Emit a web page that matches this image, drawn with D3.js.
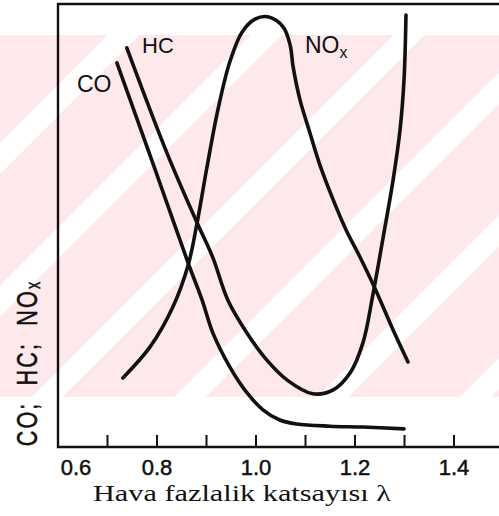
<!DOCTYPE html>
<html>
<head>
<meta charset="utf-8">
<script src="https://cdn.jsdelivr.net/npm/d3@7"></script>
<style>
  body { margin: 0; background: #fff; }
  svg { display: block; }
  .curve { fill: none; stroke: #111; stroke-width: 3.6; stroke-linecap: round; }
  .frame { fill: none; stroke: #111; stroke-width: 2.4; }
  .tick-mark { stroke: #111; stroke-width: 2; }
  .lbl { font-family: "Liberation Sans", Arial, sans-serif; fill: #111; }
</style>
</head>
<body>
<div id="chart"></div>
<script>
// excess air ratio (lambda) and relative emission level for each curve
const coLambda  = [0.719, 0.795, 0.863, 0.891, 0.913, 0.947, 0.982, 1.014, 1.048, 1.082, 1.149, 1.216, 1.299];
const coValue   = [86.7, 63.0, 41.5, 33.2, 25.7, 18.1, 12.2, 8.4, 6.1, 5.2, 4.7, 4.5, 4.1];

const hcLambda  = [0.739, 0.820, 0.881, 0.913, 0.943, 0.982, 1.022, 1.063, 1.115, 1.156, 1.190, 1.216, 1.236, 1.257, 1.277, 1.291, 1.299, 1.303];
const hcValue   = [90.1, 66.4, 50.6, 42.7, 33.2, 25.7, 19.6, 15.1, 12.0, 12.9, 16.7, 23.5, 34.3, 47.4, 60.3, 71.6, 82.8, 97.5];

const noxLambda = [0.731, 0.786, 0.832, 0.863, 0.881, 0.901, 0.923, 0.947, 0.972, 0.998, 1.024, 1.055, 1.069, 1.075, 1.089, 1.109, 1.129, 1.156, 1.182, 1.210, 1.242, 1.277, 1.307];
const noxValue  = [15.6, 22.6, 31.6, 41.1, 50.6, 63.2, 76.1, 86.9, 93.7, 96.6, 97.1, 94.8, 90.7, 85.8, 78.3, 70.9, 63.7, 55.8, 49.0, 42.9, 35.4, 26.4, 19.2];

const tickMarks  = [0.7, 0.8, 0.9, 1.0, 1.1, 1.2, 1.3, 1.4];
const tickLabels = ["0.6", "0.8", "1.0", "1.2", "1.4"];

const svg = d3.select("#chart").append("svg")
    .attr("width", 499)
    .attr("height", 516);

const x = d3.scaleLinear().domain([0.6, 1.4]).range([58, 454]);
const y = d3.scaleLinear().domain([0, 100]).range([447, 4]);
const right = 499;

// faint pink watermark band behind the plot
const defs = svg.append("defs");
const pat = defs.append("pattern")
    .attr("id", "wm")
    .attr("patternUnits", "userSpaceOnUse")
    .attr("width", 101).attr("height", 101)
    .attr("patternTransform", "rotate(45)");
pat.append("rect").attr("width", 101).attr("height", 101).attr("fill", "#fde8ec");
pat.append("rect").attr("x", 0).attr("width", 22).attr("height", 101).attr("fill", "#fff");

svg.append("rect")
    .attr("x", 0).attr("y", 35)
    .attr("width", right).attr("height", 362)
    .attr("fill", "url(#wm)");

// frame: top, left and bottom lines
svg.append("path")
    .attr("class", "frame")
    .attr("d", `M${right},${y(100)}H${x(0.6)}V${y(0)}H${right}`);

// tick marks point inward
svg.selectAll("line.tick-mark")
    .data(tickMarks)
    .enter().append("line")
    .attr("class", "tick-mark")
    .attr("x1", d => x(d)).attr("x2", d => x(d))
    .attr("y1", y(0)).attr("y2", y(0) - 12);

svg.selectAll("text.tick-label")
    .data(tickLabels)
    .enter().append("text")
    .attr("class", "lbl tick-label")
    .attr("x", d => x(+d) + (d === "0.6" ? 18 : 0))
    .attr("y", 475)
    .attr("text-anchor", "middle")
    .style("font-size", "22px")
    .style("stroke", "#111").style("stroke-width", 0.5)
    .text(d => d);

// curves
const line = d3.line()
    .x(d => x(d[0]))
    .y(d => y(d[1]))
    .curve(d3.curveCatmullRom.alpha(0.5));

const series = [
    d3.zip(coLambda, coValue),
    d3.zip(hcLambda, hcValue),
    d3.zip(noxLambda, noxValue)
];

svg.selectAll("path.curve")
    .data(series)
    .enter().append("path")
    .attr("class", "curve")
    .attr("d", line);

// curve labels
svg.append("text").attr("class", "lbl").attr("x", 77).attr("y", 92)
    .style("font-size", "23px").text("CO");
svg.append("text").attr("class", "lbl").attr("x", 142).attr("y", 53)
    .style("font-size", "22px").text("HC");
const nox = svg.append("text").attr("class", "lbl").attr("x", 305).attr("y", 53)
    .style("font-size", "23px");
nox.append("tspan").text("NO");
nox.append("tspan").attr("dy", 5).style("font-size", "16px").text("x");

// y axis title (rotated, condensed)
const yt = svg.append("text").attr("class", "lbl")
    .attr("transform", "translate(37,363) rotate(-90) scale(0.72,1)")
    .attr("text-anchor", "middle")
    .style("font-size", "30px")
    .style("word-spacing", "11px")
    .style("letter-spacing", "3px")
    .style("stroke", "#111").style("stroke-width", 0.5);
yt.append("tspan").text("CO; HC; NO");
yt.append("tspan").attr("dy", 3).style("font-size", "20px").text("x");

// x axis title
svg.append("text")
    .attr("x", 93).attr("y", 501)
    .attr("textLength", 298)
    .attr("lengthAdjust", "spacingAndGlyphs")
    .style("font-family", "'Liberation Serif', 'Times New Roman', serif")
    .style("font-size", "24px")
    .attr("fill", "#111")
    .text("Hava fazlalik katsayısı λ");
</script>
</body>
</html>
